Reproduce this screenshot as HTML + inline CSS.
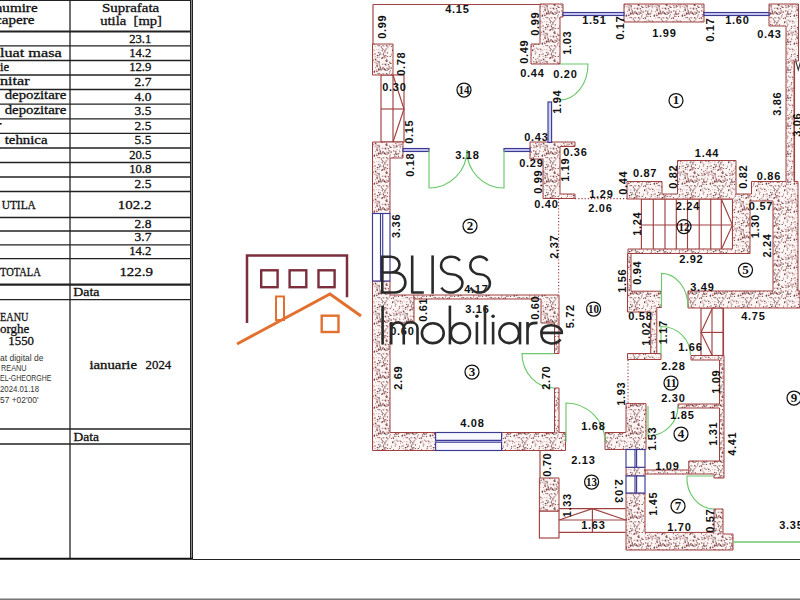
<!DOCTYPE html>
<html><head><meta charset="utf-8"><title>Plan</title>
<style>
html,body{margin:0;padding:0;background:#fff;width:800px;height:600px;overflow:hidden}
svg{display:block}
</style></head><body>
<svg width="800" height="600" viewBox="0 0 800 600">
<defs><pattern id="h" patternUnits="userSpaceOnUse" width="28" height="28"><rect width="28" height="28" fill="#fdf4f4"/><circle cx="9.1" cy="4.2" r="0.69" fill="#7a3434" fill-opacity="0.88"/><circle cx="2.6" cy="16.3" r="0.81" fill="#5a2c2c" fill-opacity="0.56"/><circle cx="12.1" cy="2.0" r="0.44" fill="#a04848" fill-opacity="0.57"/><circle cx="15.8" cy="26.5" r="0.68" fill="#4a2a2a" fill-opacity="0.93"/><circle cx="16.2" cy="11.1" r="0.84" fill="#7a3434" fill-opacity="0.77"/><circle cx="3.7" cy="11.7" r="0.64" fill="#4a2a2a" fill-opacity="0.67"/><circle cx="22.9" cy="5.1" r="0.66" fill="#5a2c2c" fill-opacity="0.70"/><circle cx="15.3" cy="1.8" r="0.43" fill="#5a2c2c" fill-opacity="0.75"/><circle cx="14.9" cy="21.8" r="0.61" fill="#a04848" fill-opacity="0.69"/><circle cx="7.0" cy="5.0" r="0.75" fill="#7a3434" fill-opacity="0.78"/><circle cx="14.7" cy="24.5" r="0.73" fill="#6a3434" fill-opacity="0.79"/><circle cx="2.0" cy="14.3" r="0.47" fill="#6a3434" fill-opacity="0.61"/><circle cx="13.7" cy="1.1" r="0.70" fill="#4a2a2a" fill-opacity="0.78"/><circle cx="24.5" cy="8.8" r="0.71" fill="#4a2a2a" fill-opacity="0.75"/><circle cx="22.3" cy="1.9" r="0.44" fill="#6a3434" fill-opacity="0.74"/><circle cx="18.6" cy="1.7" r="0.72" fill="#4a2a2a" fill-opacity="0.95"/><circle cx="23.0" cy="8.0" r="0.57" fill="#6a3434" fill-opacity="0.56"/><circle cx="12.9" cy="4.7" r="0.45" fill="#7a3434" fill-opacity="0.64"/><circle cx="8.0" cy="20.7" r="0.58" fill="#a04848" fill-opacity="0.58"/><circle cx="12.6" cy="15.4" r="0.80" fill="#a04848" fill-opacity="0.90"/><circle cx="7.8" cy="11.6" r="0.56" fill="#a04848" fill-opacity="0.93"/><circle cx="4.2" cy="4.9" r="0.50" fill="#5a2c2c" fill-opacity="0.55"/><circle cx="23.3" cy="5.1" r="0.53" fill="#5a2c2c" fill-opacity="0.72"/><circle cx="10.3" cy="15.9" r="0.83" fill="#4a2a2a" fill-opacity="0.93"/><circle cx="18.3" cy="20.7" r="0.61" fill="#4a2a2a" fill-opacity="0.71"/><circle cx="11.2" cy="2.9" r="0.69" fill="#7a3434" fill-opacity="0.63"/><circle cx="27.6" cy="12.3" r="0.45" fill="#4a2a2a" fill-opacity="0.57"/><circle cx="0.0" cy="4.2" r="0.45" fill="#6a3434" fill-opacity="0.80"/><circle cx="2.0" cy="5.8" r="0.57" fill="#6a3434" fill-opacity="0.93"/><circle cx="16.9" cy="13.3" r="0.45" fill="#a04848" fill-opacity="0.95"/><circle cx="13.0" cy="13.5" r="0.44" fill="#7a3434" fill-opacity="0.85"/><circle cx="20.7" cy="13.4" r="0.71" fill="#4a2a2a" fill-opacity="0.56"/><circle cx="26.6" cy="14.8" r="0.47" fill="#4a2a2a" fill-opacity="0.92"/><circle cx="21.2" cy="8.3" r="0.69" fill="#7a3434" fill-opacity="0.83"/><circle cx="7.3" cy="10.3" r="0.48" fill="#5a2c2c" fill-opacity="0.76"/><circle cx="21.8" cy="9.2" r="0.50" fill="#5a2c2c" fill-opacity="0.87"/><circle cx="22.9" cy="20.7" r="0.50" fill="#4a2a2a" fill-opacity="0.75"/><circle cx="20.5" cy="27.7" r="0.76" fill="#a04848" fill-opacity="0.65"/><circle cx="19.4" cy="26.8" r="0.60" fill="#6a3434" fill-opacity="0.93"/><circle cx="10.2" cy="6.2" r="0.50" fill="#5a2c2c" fill-opacity="0.69"/><circle cx="13.5" cy="27.6" r="0.67" fill="#7a3434" fill-opacity="0.74"/><circle cx="18.3" cy="22.4" r="0.44" fill="#7a3434" fill-opacity="0.91"/><circle cx="21.9" cy="21.0" r="0.62" fill="#5a2c2c" fill-opacity="0.72"/><circle cx="17.8" cy="2.4" r="0.83" fill="#a04848" fill-opacity="0.74"/><circle cx="20.8" cy="2.4" r="0.47" fill="#5a2c2c" fill-opacity="0.56"/><circle cx="16.5" cy="13.0" r="0.70" fill="#4a2a2a" fill-opacity="0.88"/><circle cx="27.4" cy="18.4" r="0.56" fill="#4a2a2a" fill-opacity="0.77"/><circle cx="0.6" cy="22.4" r="0.73" fill="#7a3434" fill-opacity="0.76"/><circle cx="26.1" cy="12.1" r="0.79" fill="#5a2c2c" fill-opacity="0.56"/><circle cx="6.0" cy="14.0" r="0.74" fill="#6a3434" fill-opacity="0.65"/><circle cx="11.7" cy="3.7" r="0.81" fill="#6a3434" fill-opacity="0.91"/><circle cx="18.5" cy="22.8" r="0.63" fill="#4a2a2a" fill-opacity="0.60"/><circle cx="4.3" cy="14.3" r="0.79" fill="#5a2c2c" fill-opacity="0.79"/><circle cx="21.7" cy="4.2" r="0.46" fill="#4a2a2a" fill-opacity="0.84"/><circle cx="15.6" cy="9.1" r="0.63" fill="#4a2a2a" fill-opacity="0.74"/><circle cx="21.7" cy="24.7" r="0.43" fill="#5a2c2c" fill-opacity="0.66"/><circle cx="21.6" cy="14.2" r="0.65" fill="#7a3434" fill-opacity="0.73"/><circle cx="17.2" cy="14.2" r="0.63" fill="#6a3434" fill-opacity="0.73"/><circle cx="14.9" cy="13.4" r="0.82" fill="#4a2a2a" fill-opacity="0.90"/><circle cx="26.4" cy="7.3" r="0.65" fill="#5a2c2c" fill-opacity="0.89"/><circle cx="3.8" cy="3.4" r="0.60" fill="#7a3434" fill-opacity="0.82"/><circle cx="12.0" cy="6.0" r="0.54" fill="#7a3434" fill-opacity="0.91"/><circle cx="4.3" cy="20.1" r="0.70" fill="#5a2c2c" fill-opacity="0.65"/><circle cx="3.8" cy="13.1" r="0.74" fill="#7a3434" fill-opacity="0.71"/><circle cx="13.6" cy="27.7" r="0.77" fill="#5a2c2c" fill-opacity="0.83"/><circle cx="27.8" cy="11.3" r="0.59" fill="#6a3434" fill-opacity="0.68"/><circle cx="20.2" cy="0.5" r="0.65" fill="#a04848" fill-opacity="0.83"/><circle cx="10.8" cy="14.5" r="0.53" fill="#7a3434" fill-opacity="0.60"/><circle cx="25.7" cy="6.4" r="0.79" fill="#7a3434" fill-opacity="0.66"/><circle cx="1.1" cy="21.8" r="0.52" fill="#5a2c2c" fill-opacity="0.88"/><circle cx="23.8" cy="18.9" r="0.83" fill="#a04848" fill-opacity="0.61"/><circle cx="25.7" cy="16.0" r="0.72" fill="#7a3434" fill-opacity="0.66"/><circle cx="22.4" cy="5.1" r="0.80" fill="#6a3434" fill-opacity="0.93"/><circle cx="17.8" cy="22.4" r="0.44" fill="#5a2c2c" fill-opacity="0.58"/><circle cx="24.2" cy="12.7" r="0.55" fill="#4a2a2a" fill-opacity="0.72"/><circle cx="25.6" cy="17.4" r="0.42" fill="#5a2c2c" fill-opacity="0.93"/><circle cx="27.1" cy="7.3" r="0.48" fill="#6a3434" fill-opacity="0.80"/><circle cx="14.9" cy="5.8" r="0.60" fill="#5a2c2c" fill-opacity="0.66"/><circle cx="22.5" cy="27.8" r="0.42" fill="#7a3434" fill-opacity="0.84"/><circle cx="15.4" cy="5.3" r="0.61" fill="#a04848" fill-opacity="0.59"/><circle cx="22.9" cy="12.1" r="0.62" fill="#a04848" fill-opacity="0.94"/><circle cx="8.6" cy="6.0" r="0.50" fill="#5a2c2c" fill-opacity="0.88"/><circle cx="19.8" cy="17.8" r="0.58" fill="#6a3434" fill-opacity="0.94"/><circle cx="23.4" cy="0.4" r="0.68" fill="#6a3434" fill-opacity="0.72"/><circle cx="1.6" cy="18.6" r="0.57" fill="#4a2a2a" fill-opacity="0.82"/><circle cx="7.9" cy="6.8" r="0.53" fill="#a04848" fill-opacity="0.62"/><circle cx="7.5" cy="0.1" r="0.56" fill="#6a3434" fill-opacity="0.94"/><circle cx="15.3" cy="6.8" r="0.83" fill="#6a3434" fill-opacity="0.64"/><circle cx="5.1" cy="9.4" r="0.44" fill="#6a3434" fill-opacity="0.75"/><circle cx="5.6" cy="14.1" r="0.40" fill="#6a3434" fill-opacity="0.88"/><circle cx="4.0" cy="16.4" r="0.58" fill="#6a3434" fill-opacity="0.67"/><circle cx="6.5" cy="16.4" r="0.64" fill="#5a2c2c" fill-opacity="0.81"/><circle cx="20.0" cy="24.6" r="0.58" fill="#6a3434" fill-opacity="0.84"/><circle cx="13.8" cy="8.0" r="0.68" fill="#5a2c2c" fill-opacity="0.57"/><circle cx="23.4" cy="25.0" r="0.68" fill="#4a2a2a" fill-opacity="0.61"/><circle cx="14.7" cy="14.1" r="0.78" fill="#7a3434" fill-opacity="0.88"/><circle cx="16.4" cy="25.0" r="0.71" fill="#5a2c2c" fill-opacity="0.58"/><circle cx="1.2" cy="17.8" r="0.83" fill="#a04848" fill-opacity="0.88"/><circle cx="15.6" cy="17.6" r="0.68" fill="#5a2c2c" fill-opacity="0.75"/><circle cx="0.1" cy="22.3" r="0.74" fill="#4a2a2a" fill-opacity="0.91"/><circle cx="2.6" cy="14.7" r="0.74" fill="#a04848" fill-opacity="0.65"/><circle cx="2.1" cy="7.4" r="0.73" fill="#5a2c2c" fill-opacity="0.64"/><circle cx="18.2" cy="12.9" r="0.78" fill="#7a3434" fill-opacity="0.74"/><circle cx="19.1" cy="21.5" r="0.68" fill="#5a2c2c" fill-opacity="0.58"/><circle cx="4.1" cy="7.1" r="0.73" fill="#6a3434" fill-opacity="0.80"/><circle cx="3.7" cy="13.5" r="0.62" fill="#7a3434" fill-opacity="0.83"/><circle cx="18.9" cy="8.1" r="0.63" fill="#a04848" fill-opacity="0.74"/><circle cx="21.5" cy="27.8" r="0.65" fill="#6a3434" fill-opacity="0.94"/><circle cx="26.2" cy="0.5" r="0.61" fill="#4a2a2a" fill-opacity="0.94"/><circle cx="12.6" cy="7.5" r="0.49" fill="#5a2c2c" fill-opacity="0.58"/><circle cx="2.5" cy="20.9" r="0.52" fill="#6a3434" fill-opacity="0.60"/><circle cx="23.0" cy="14.2" r="0.80" fill="#6a3434" fill-opacity="0.64"/><circle cx="25.1" cy="13.6" r="0.41" fill="#7a3434" fill-opacity="0.93"/><circle cx="19.1" cy="11.4" r="0.73" fill="#a04848" fill-opacity="0.69"/><circle cx="8.9" cy="23.5" r="0.40" fill="#6a3434" fill-opacity="0.89"/><circle cx="3.4" cy="25.9" r="0.72" fill="#6a3434" fill-opacity="0.65"/><circle cx="1.8" cy="10.9" r="0.79" fill="#7a3434" fill-opacity="0.69"/><circle cx="12.0" cy="7.7" r="0.42" fill="#7a3434" fill-opacity="0.57"/><circle cx="18.5" cy="17.8" r="0.47" fill="#6a3434" fill-opacity="0.72"/><circle cx="8.8" cy="21.6" r="0.75" fill="#a04848" fill-opacity="0.90"/><circle cx="22.7" cy="17.7" r="0.81" fill="#4a2a2a" fill-opacity="0.77"/><circle cx="20.1" cy="1.4" r="0.73" fill="#a04848" fill-opacity="0.80"/><circle cx="3.9" cy="24.3" r="0.62" fill="#4a2a2a" fill-opacity="0.60"/><circle cx="13.2" cy="9.6" r="0.53" fill="#6a3434" fill-opacity="0.71"/><circle cx="6.7" cy="13.5" r="0.70" fill="#7a3434" fill-opacity="0.62"/><circle cx="4.5" cy="5.8" r="0.81" fill="#a04848" fill-opacity="0.77"/><circle cx="12.7" cy="9.3" r="0.74" fill="#a04848" fill-opacity="0.61"/><circle cx="5.4" cy="2.5" r="0.55" fill="#7a3434" fill-opacity="0.68"/><circle cx="10.3" cy="22.7" r="0.49" fill="#7a3434" fill-opacity="0.85"/><circle cx="11.6" cy="11.6" r="0.64" fill="#a04848" fill-opacity="0.66"/><circle cx="21.1" cy="13.9" r="0.66" fill="#6a3434" fill-opacity="0.60"/><circle cx="14.1" cy="17.6" r="0.79" fill="#5a2c2c" fill-opacity="0.59"/><circle cx="25.1" cy="10.8" r="0.69" fill="#a04848" fill-opacity="0.93"/><circle cx="23.8" cy="24.4" r="0.41" fill="#7a3434" fill-opacity="0.72"/><circle cx="21.4" cy="22.5" r="0.84" fill="#a04848" fill-opacity="0.55"/><circle cx="11.0" cy="26.0" r="0.77" fill="#a04848" fill-opacity="0.94"/><circle cx="7.0" cy="3.1" r="0.47" fill="#4a2a2a" fill-opacity="0.94"/><circle cx="3.0" cy="23.1" r="0.72" fill="#a04848" fill-opacity="0.58"/><circle cx="21.8" cy="0.0" r="0.46" fill="#4a2a2a" fill-opacity="0.92"/><circle cx="18.1" cy="8.5" r="0.46" fill="#6a3434" fill-opacity="0.76"/><circle cx="12.2" cy="21.4" r="0.44" fill="#6a3434" fill-opacity="0.76"/><circle cx="16.3" cy="10.9" r="0.50" fill="#4a2a2a" fill-opacity="0.55"/><circle cx="15.0" cy="27.9" r="0.53" fill="#6a3434" fill-opacity="0.81"/><circle cx="24.7" cy="13.3" r="0.51" fill="#5a2c2c" fill-opacity="0.56"/><circle cx="11.5" cy="18.2" r="0.42" fill="#5a2c2c" fill-opacity="0.75"/><circle cx="18.9" cy="11.8" r="0.52" fill="#a04848" fill-opacity="0.92"/><circle cx="6.4" cy="1.0" r="0.55" fill="#a04848" fill-opacity="0.69"/><circle cx="11.1" cy="0.2" r="0.53" fill="#4a2a2a" fill-opacity="0.58"/><circle cx="13.9" cy="5.6" r="0.74" fill="#5a2c2c" fill-opacity="0.64"/><circle cx="6.2" cy="21.3" r="0.53" fill="#4a2a2a" fill-opacity="0.75"/><circle cx="5.2" cy="6.3" r="0.59" fill="#7a3434" fill-opacity="0.93"/><circle cx="4.1" cy="11.0" r="0.50" fill="#4a2a2a" fill-opacity="0.61"/><circle cx="1.5" cy="1.7" r="0.58" fill="#6a3434" fill-opacity="0.84"/><circle cx="27.9" cy="26.1" r="0.55" fill="#5a2c2c" fill-opacity="0.81"/><circle cx="14.7" cy="13.1" r="0.54" fill="#a04848" fill-opacity="0.89"/><circle cx="27.6" cy="12.4" r="0.45" fill="#7a3434" fill-opacity="0.66"/><circle cx="9.8" cy="26.8" r="0.46" fill="#5a2c2c" fill-opacity="0.70"/><circle cx="21.5" cy="8.6" r="0.76" fill="#7a3434" fill-opacity="0.57"/><circle cx="13.3" cy="10.4" r="0.81" fill="#5a2c2c" fill-opacity="0.68"/><circle cx="20.6" cy="13.3" r="0.68" fill="#5a2c2c" fill-opacity="0.87"/><circle cx="21.5" cy="1.1" r="0.42" fill="#7a3434" fill-opacity="0.87"/><circle cx="1.7" cy="5.5" r="0.43" fill="#4a2a2a" fill-opacity="0.69"/><circle cx="7.6" cy="26.8" r="0.68" fill="#6a3434" fill-opacity="0.85"/><circle cx="19.3" cy="25.9" r="0.53" fill="#4a2a2a" fill-opacity="0.92"/><circle cx="17.8" cy="26.4" r="0.41" fill="#5a2c2c" fill-opacity="0.59"/><circle cx="20.0" cy="13.0" r="0.75" fill="#6a3434" fill-opacity="0.92"/><circle cx="22.8" cy="3.7" r="0.62" fill="#7a3434" fill-opacity="0.87"/><circle cx="20.7" cy="23.0" r="0.75" fill="#4a2a2a" fill-opacity="0.64"/><circle cx="24.1" cy="12.9" r="0.75" fill="#4a2a2a" fill-opacity="0.58"/><circle cx="5.5" cy="21.1" r="0.51" fill="#7a3434" fill-opacity="0.81"/><circle cx="13.5" cy="15.2" r="0.47" fill="#a04848" fill-opacity="0.90"/><circle cx="27.7" cy="7.4" r="0.44" fill="#7a3434" fill-opacity="0.72"/><circle cx="27.7" cy="27.2" r="0.48" fill="#5a2c2c" fill-opacity="0.72"/><circle cx="17.4" cy="18.9" r="0.74" fill="#7a3434" fill-opacity="0.86"/><circle cx="8.2" cy="7.8" r="0.52" fill="#6a3434" fill-opacity="0.85"/></pattern></defs>
<rect width="800" height="600" fill="#fff"/>
<line x1="0" y1="0.5" x2="193" y2="0.5" stroke="#222" stroke-width="1.2" />
<line x1="70" y1="0" x2="70" y2="559" stroke="#222" stroke-width="1.3" />
<rect x="190" y="0" width="3" height="559" fill="#8a8a8a"/>
<line x1="190.5" y1="0" x2="190.5" y2="559" stroke="#222" stroke-width="1" />
<line x1="192.5" y1="0" x2="192.5" y2="559" stroke="#222" stroke-width="1" />
<line x1="0" y1="31.5" x2="190" y2="31.5" stroke="#222" stroke-width="2" />
<line x1="0" y1="45.8" x2="190" y2="45.8" stroke="#222" stroke-width="1.3" />
<line x1="0" y1="60.5" x2="190" y2="60.5" stroke="#222" stroke-width="1.3" />
<line x1="0" y1="75" x2="190" y2="75" stroke="#222" stroke-width="1.3" />
<line x1="0" y1="89.5" x2="190" y2="89.5" stroke="#222" stroke-width="1.3" />
<line x1="0" y1="104.2" x2="190" y2="104.2" stroke="#222" stroke-width="1.3" />
<line x1="0" y1="118.8" x2="190" y2="118.8" stroke="#222" stroke-width="1.3" />
<line x1="0" y1="133.4" x2="190" y2="133.4" stroke="#222" stroke-width="1.3" />
<line x1="0" y1="148" x2="190" y2="148" stroke="#222" stroke-width="1.3" />
<line x1="0" y1="162.5" x2="190" y2="162.5" stroke="#222" stroke-width="1.3" />
<line x1="0" y1="177" x2="190" y2="177" stroke="#222" stroke-width="1.3" />
<line x1="0" y1="191.5" x2="190" y2="191.5" stroke="#222" stroke-width="1.3" />
<line x1="0" y1="217.5" x2="190" y2="217.5" stroke="#222" stroke-width="1.3" />
<line x1="0" y1="231" x2="190" y2="231" stroke="#222" stroke-width="1.3" />
<line x1="0" y1="244.8" x2="190" y2="244.8" stroke="#222" stroke-width="1.3" />
<line x1="0" y1="258.6" x2="190" y2="258.6" stroke="#222" stroke-width="1.3" />
<line x1="0" y1="284.7" x2="190" y2="284.7" stroke="#222" stroke-width="2.2" />
<line x1="0" y1="299.6" x2="190" y2="299.6" stroke="#222" stroke-width="1.4" />
<line x1="0" y1="429" x2="190" y2="429" stroke="#222" stroke-width="1.4" />
<line x1="0" y1="444" x2="190" y2="444" stroke="#222" stroke-width="1.4" />
<line x1="0" y1="558.8" x2="193" y2="558.8" stroke="#111" stroke-width="2" />
<line x1="193" y1="559.5" x2="800" y2="559.5" stroke="#222" stroke-width="1.1" />
<rect x="0" y="598.5" width="800" height="1.5" fill="#777"/>
<text x="102" y="11.7" font-family="Liberation Serif, serif" font-weight="normal" font-size="12.5" fill="#111" stroke="#111" stroke-width="0.3" textLength="57.2" lengthAdjust="spacingAndGlyphs">Suprafata</text>
<text x="100.2" y="25.3" font-family="Liberation Serif, serif" font-weight="normal" font-size="12.5" fill="#111" stroke="#111" stroke-width="0.3" textLength="61.8" lengthAdjust="spacingAndGlyphs">utila&#160;&#160;[mp]</text>
<text x="-5.2" y="12.1" font-family="Liberation Serif, serif" font-weight="normal" font-size="12" fill="#111" stroke="#111" stroke-width="0.3" textLength="42.8" lengthAdjust="spacingAndGlyphs">numire</text>
<text x="-5.0" y="24.2" font-family="Liberation Serif, serif" font-weight="normal" font-size="12" fill="#111" stroke="#111" stroke-width="0.3" textLength="39.5" lengthAdjust="spacingAndGlyphs">capere</text>
<text x="0" y="56.7" font-family="Liberation Serif, serif" font-weight="normal" font-size="12" fill="#111" stroke="#111" stroke-width="0.3" textLength="61.7" lengthAdjust="spacingAndGlyphs">luat masa</text>
<text x="0" y="70.8" font-family="Liberation Serif, serif" font-weight="normal" font-size="12" fill="#111" stroke="#111" stroke-width="0.3" textLength="9.2" lengthAdjust="spacingAndGlyphs">ie</text>
<text x="0" y="85" font-family="Liberation Serif, serif" font-weight="normal" font-size="12" fill="#111" stroke="#111" stroke-width="0.3" textLength="29.7" lengthAdjust="spacingAndGlyphs">nitar</text>
<text x="4.7" y="99.2" font-family="Liberation Serif, serif" font-weight="normal" font-size="12" fill="#111" stroke="#111" stroke-width="0.3" textLength="61.6" lengthAdjust="spacingAndGlyphs">depozitare</text>
<text x="4.7" y="113.6" font-family="Liberation Serif, serif" font-weight="normal" font-size="12" fill="#111" stroke="#111" stroke-width="0.3" textLength="61.6" lengthAdjust="spacingAndGlyphs">depozitare</text>
<text x="4.7" y="144.2" font-family="Liberation Serif, serif" font-weight="normal" font-size="12" fill="#111" stroke="#111" stroke-width="0.3" textLength="42.8" lengthAdjust="spacingAndGlyphs">tehnica</text>
<text x="1.7" y="209.2" font-family="Liberation Serif, serif" font-weight="normal" font-size="12" fill="#111" stroke="#111" stroke-width="0.3" textLength="34.1" lengthAdjust="spacingAndGlyphs">UTILA</text>
<text x="0" y="275.8" font-family="Liberation Serif, serif" font-weight="normal" font-size="12" fill="#111" stroke="#111" stroke-width="0.3" textLength="40.8" lengthAdjust="spacingAndGlyphs">TOTALA</text>
<text x="0" y="321" font-family="Liberation Serif, serif" font-weight="normal" font-size="13" fill="#111" stroke="#111" stroke-width="0.3" textLength="28.4" lengthAdjust="spacingAndGlyphs">EANU</text>
<text x="0" y="333" font-family="Liberation Serif, serif" font-weight="normal" font-size="13" fill="#111" stroke="#111" stroke-width="0.3" textLength="29.4" lengthAdjust="spacingAndGlyphs">orghe</text>
<text x="8.3" y="344.6" font-family="Liberation Serif, serif" font-weight="normal" font-size="13" fill="#111" stroke="#111" stroke-width="0.3" textLength="25.7" lengthAdjust="spacingAndGlyphs">1550</text>
<rect x="0" y="123" width="1.6" height="1.6" fill="#111"/>
<text x="129.20000000000002" y="42.9" font-family="Liberation Serif, serif" font-weight="normal" font-size="12" fill="#111" stroke="#111" stroke-width="0.3" textLength="22.2" lengthAdjust="spacingAndGlyphs">23.1</text>
<text x="129.20000000000002" y="57.1" font-family="Liberation Serif, serif" font-weight="normal" font-size="12" fill="#111" stroke="#111" stroke-width="0.3" textLength="22.2" lengthAdjust="spacingAndGlyphs">14.2</text>
<text x="129.20000000000002" y="71.4" font-family="Liberation Serif, serif" font-weight="normal" font-size="12" fill="#111" stroke="#111" stroke-width="0.3" textLength="22.2" lengthAdjust="spacingAndGlyphs">12.9</text>
<text x="134.6" y="86.1" font-family="Liberation Serif, serif" font-weight="normal" font-size="12" fill="#111" stroke="#111" stroke-width="0.3" textLength="16.8" lengthAdjust="spacingAndGlyphs">2.7</text>
<text x="134.6" y="100.8" font-family="Liberation Serif, serif" font-weight="normal" font-size="12" fill="#111" stroke="#111" stroke-width="0.3" textLength="16.8" lengthAdjust="spacingAndGlyphs">4.0</text>
<text x="134.6" y="115.2" font-family="Liberation Serif, serif" font-weight="normal" font-size="12" fill="#111" stroke="#111" stroke-width="0.3" textLength="16.8" lengthAdjust="spacingAndGlyphs">3.5</text>
<text x="134.6" y="129.7" font-family="Liberation Serif, serif" font-weight="normal" font-size="12" fill="#111" stroke="#111" stroke-width="0.3" textLength="16.8" lengthAdjust="spacingAndGlyphs">2.5</text>
<text x="134.6" y="144.4" font-family="Liberation Serif, serif" font-weight="normal" font-size="12" fill="#111" stroke="#111" stroke-width="0.3" textLength="16.8" lengthAdjust="spacingAndGlyphs">5.5</text>
<text x="129.20000000000002" y="158.9" font-family="Liberation Serif, serif" font-weight="normal" font-size="12" fill="#111" stroke="#111" stroke-width="0.3" textLength="22.2" lengthAdjust="spacingAndGlyphs">20.5</text>
<text x="129.20000000000002" y="173.4" font-family="Liberation Serif, serif" font-weight="normal" font-size="12" fill="#111" stroke="#111" stroke-width="0.3" textLength="22.2" lengthAdjust="spacingAndGlyphs">10.8</text>
<text x="134.6" y="187.8" font-family="Liberation Serif, serif" font-weight="normal" font-size="12" fill="#111" stroke="#111" stroke-width="0.3" textLength="16.8" lengthAdjust="spacingAndGlyphs">2.5</text>
<text x="117.80000000000001" y="209.25" font-family="Liberation Serif, serif" font-weight="normal" font-size="12" fill="#111" stroke="#111" stroke-width="0.3" textLength="33.6" lengthAdjust="spacingAndGlyphs">102.2</text>
<text x="134.6" y="227.5" font-family="Liberation Serif, serif" font-weight="normal" font-size="12" fill="#111" stroke="#111" stroke-width="0.3" textLength="16.8" lengthAdjust="spacingAndGlyphs">2.8</text>
<text x="134.6" y="241.3" font-family="Liberation Serif, serif" font-weight="normal" font-size="12" fill="#111" stroke="#111" stroke-width="0.3" textLength="16.8" lengthAdjust="spacingAndGlyphs">3.7</text>
<text x="129.20000000000002" y="255.3" font-family="Liberation Serif, serif" font-weight="normal" font-size="12" fill="#111" stroke="#111" stroke-width="0.3" textLength="22.2" lengthAdjust="spacingAndGlyphs">14.2</text>
<text x="119.4" y="276.25" font-family="Liberation Serif, serif" font-weight="normal" font-size="12" fill="#111" stroke="#111" stroke-width="0.3" textLength="33.6" lengthAdjust="spacingAndGlyphs">122.9</text>
<text x="73.25" y="296" font-family="Liberation Serif, serif" font-weight="normal" font-size="12" fill="#111" stroke="#111" stroke-width="0.3" textLength="26.2" lengthAdjust="spacingAndGlyphs">Data</text>
<text x="89.4" y="368.75" font-family="Liberation Serif, serif" font-weight="normal" font-size="12" fill="#111" stroke="#111" stroke-width="0.3" textLength="47.6" lengthAdjust="spacingAndGlyphs">ianuarie</text>
<text x="145.6" y="368.75" font-family="Liberation Serif, serif" font-weight="normal" font-size="12" fill="#111" stroke="#111" stroke-width="0.3" textLength="25.7" lengthAdjust="spacingAndGlyphs">2024</text>
<text x="73.5" y="441" font-family="Liberation Serif, serif" font-weight="normal" font-size="12" fill="#111" stroke="#111" stroke-width="0.3" textLength="25.5" lengthAdjust="spacingAndGlyphs">Data</text>
<text x="0" y="360.5" font-family="Liberation Sans, sans-serif" font-weight="normal" font-size="9.5" fill="#333" textLength="43.5" lengthAdjust="spacingAndGlyphs">at digital de</text>
<text x="1" y="370.6" font-family="Liberation Sans, sans-serif" font-weight="normal" font-size="9.5" fill="#333" textLength="25.6" lengthAdjust="spacingAndGlyphs">REANU</text>
<text x="0" y="381.3" font-family="Liberation Sans, sans-serif" font-weight="normal" font-size="9.5" fill="#333" textLength="51.4" lengthAdjust="spacingAndGlyphs">EL-GHEORGHE</text>
<text x="0" y="391.7" font-family="Liberation Sans, sans-serif" font-weight="normal" font-size="9.5" fill="#333" textLength="39.0" lengthAdjust="spacingAndGlyphs">2024.01.18</text>
<text x="0" y="402.8" font-family="Liberation Sans, sans-serif" font-weight="normal" font-size="9.5" fill="#333" textLength="38.5" lengthAdjust="spacingAndGlyphs">57 +02'00'</text>
<line x1="373" y1="4.5" x2="540" y2="4.5" stroke="#a04040" stroke-width="1.15" />
<line x1="373" y1="4.5" x2="373" y2="44" stroke="#a04040" stroke-width="1.15" />
<rect x="381" y="75" width="23" height="67" fill="none" stroke="#a04040" stroke-width="1.15"/>
<line x1="393" y1="75" x2="393" y2="142" stroke="#a04040" stroke-width="1.15" />
<line x1="381" y1="109" x2="404" y2="109" stroke="#a04040" stroke-width="1.15" />
<polyline points="393,75 404,109 393,142" fill="none" stroke="#a04040" stroke-width="1.15"/>
<rect x="641.4" y="199" width="91.10000000000002" height="50.5" fill="none" stroke="#a04040" stroke-width="1.15"/>
<line x1="653.3" y1="199" x2="653.3" y2="249.5" stroke="#a04040" stroke-width="1.15" />
<line x1="665" y1="199" x2="665" y2="249.5" stroke="#a04040" stroke-width="1.15" />
<line x1="676.3" y1="199" x2="676.3" y2="249.5" stroke="#a04040" stroke-width="1.15" />
<line x1="687.5" y1="199" x2="687.5" y2="249.5" stroke="#a04040" stroke-width="1.15" />
<line x1="699.2" y1="199" x2="699.2" y2="249.5" stroke="#a04040" stroke-width="1.15" />
<line x1="710.7" y1="199" x2="710.7" y2="249.5" stroke="#a04040" stroke-width="1.15" />
<line x1="721.3" y1="199" x2="721.3" y2="249.5" stroke="#a04040" stroke-width="1.15" />
<line x1="641.4" y1="225" x2="732.5" y2="225" stroke="#a04040" stroke-width="1.15" />
<polyline points="721.3,199 732.5,225 721.3,249.5" fill="none" stroke="#a04040" stroke-width="1.15"/>
<rect x="701" y="308" width="22" height="47.5" fill="none" stroke="#a04040" stroke-width="1.15"/>
<line x1="712" y1="308" x2="712" y2="355.5" stroke="#a04040" stroke-width="1.15" />
<line x1="701" y1="332.4" x2="723" y2="332.4" stroke="#a04040" stroke-width="1.15" />
<polyline points="712,309 701,332.4 712,355" fill="none" stroke="#a04040" stroke-width="1.15"/>
<line x1="559" y1="508.6" x2="625.6" y2="508.6" stroke="#a04040" stroke-width="1.15" />
<line x1="559" y1="520" x2="625.6" y2="520" stroke="#a04040" stroke-width="1.15" />
<line x1="559" y1="532.4" x2="625.6" y2="532.4" stroke="#a04040" stroke-width="1.15" />
<line x1="592.4" y1="508.6" x2="592.4" y2="532.4" stroke="#a04040" stroke-width="1.15" />
<polyline points="559,520 592.4,508.6 625.6,520" fill="none" stroke="#a04040" stroke-width="1.15"/>
<rect x="539.4" y="511" width="19.600000000000023" height="27" fill="none" stroke="#a04040" stroke-width="1.15"/>
<line x1="540" y1="450" x2="540" y2="478" stroke="#a04040" stroke-width="1.15" />
<line x1="723.5" y1="308" x2="723.5" y2="356" stroke="#a04040" stroke-width="1.15" />
<line x1="794.5" y1="61" x2="794.5" y2="181.5" stroke="#a04040" stroke-width="1.15" />
<polyline points="795.5,60 798.3,70 801,60" fill="none" stroke="#333" stroke-width="1.1"/>
<polygon points="372.5,44 393,44 393,75 372.5,75" fill="url(#h)" stroke="#a04040" stroke-width="1.0"/>
<polygon points="372.5,142 403,142 403,158 390,158 390,213.5 372.5,213.5" fill="url(#h)" stroke="#a04040" stroke-width="1.0"/>
<polygon points="372.5,281 390,281 390,295 414,295 414,323 390,323 390,432.5 436,432.5 436,450.5 372.5,450.5" fill="url(#h)" stroke="#a04040" stroke-width="1.0"/>
<polygon points="414,295 559,295 559,353.5 554.5,353.5 554.5,323 541,323 541,299 414,299" fill="url(#h)" stroke="#a04040" stroke-width="1.0"/>
<polygon points="554.5,388 559,388 559,432.5 565.5,432.5 565.5,450.5 501.5,450.5 501.5,432.5 554.5,432.5" fill="url(#h)" stroke="#a04040" stroke-width="1.0"/>
<polygon points="530,142 575,142 575,146.5 560,146.5 560,194 575,194 575,198.5 543,198.5 543,159 530,159" fill="url(#h)" stroke="#a04040" stroke-width="1.0"/>
<polygon points="540,4 563,4 563,17 560,17 560,64 531,64 531,44 540,44" fill="url(#h)" stroke="#a04040" stroke-width="1.0"/>
<polygon points="624,4 704,4 704,22 624,22" fill="url(#h)" stroke="#a04040" stroke-width="1.0"/>
<polygon points="769,4 798.5,4 798.5,61 794,61 794,181.5 798,181.5 798,291 800,291 800,308 688,308 688,291 773,291 773,201 750,201 750,253.5 628,253.5 628,249 732.5,249 732.5,199 627,199 627,181.5 662,181.5 662,194 677.5,194 677.5,160.5 736,160.5 736,194 751.5,194 751.5,181.5 786,181.5 786,26 769,26" fill="url(#h)" stroke="#a04040" stroke-width="1.0"/>
<polygon points="627.5,253.5 631,253.5 631,291.2 661.5,291.2 661.5,307.5 656.8,307.5 656.8,355 650.7,355 650.7,312 627.5,312" fill="url(#h)" stroke="#a04040" stroke-width="1.0"/>
<polygon points="627.5,353.5 661,353.5 661,359.5 627.5,359.5" fill="url(#h)" stroke="#a04040" stroke-width="1.0"/>
<polygon points="691,355.5 724,355.5 724,478 714,478 714,474 688.75,474 688.75,461 719.5,461 719.5,408 678,408 678,404 719.5,404 719.5,360 691,360" fill="url(#h)" stroke="#a04040" stroke-width="1.0"/>
<polygon points="645,470 688.75,470 688.75,474 645,474" fill="url(#h)" stroke="#a04040" stroke-width="1.0"/>
<polygon points="605,432.5 626,432.5 626,403.6 646,403.6 646,449.5 605,449.5" fill="url(#h)" stroke="#a04040" stroke-width="1.0"/>
<polygon points="626,467.3 645,467.3 645,476 626,476" fill="url(#h)" stroke="#a04040" stroke-width="1.0"/>
<polygon points="626,493 645,493 645,532.4 714,532.4 714,509 723,509 723,534 733,534 733,550 626,550" fill="url(#h)" stroke="#a04040" stroke-width="1.0"/>
<polygon points="539.4,478 559,478 559,511 539.4,511" fill="url(#h)" stroke="#a04040" stroke-width="1.0"/>
<line x1="575" y1="198.6" x2="627" y2="198.6" stroke="#a04040" stroke-width="1.15" stroke-dasharray="1.2,2"/>
<line x1="558.6" y1="198.6" x2="558.6" y2="293" stroke="#a04040" stroke-width="1.15" stroke-dasharray="1.2,2"/>
<line x1="628" y1="360" x2="628" y2="403" stroke="#a04040" stroke-width="1.15" stroke-dasharray="1.2,2"/>
<rect x="372.5" y="213.5" width="17.5" height="67.5" fill="#fff" stroke="#3a3a95" stroke-width="1.15"/>
<line x1="380.5" y1="213.5" x2="380.5" y2="281" stroke="#3a3a95" stroke-width="1.15" />
<line x1="382.7" y1="213.5" x2="382.7" y2="281" stroke="#3a3a95" stroke-width="1.15" />
<rect x="563" y="12.5" width="61" height="3.0" fill="#d0d0f2" stroke="#3a3a95" stroke-width="1.15"/>
<rect x="704" y="12.5" width="65" height="3.0" fill="#d0d0f2" stroke="#3a3a95" stroke-width="1.15"/>
<rect x="403" y="148.5" width="26" height="3.0" fill="#c8c8ee" stroke="#3a3a95" stroke-width="1.15"/>
<rect x="504" y="148.5" width="26" height="3.0" fill="#c8c8ee" stroke="#3a3a95" stroke-width="1.15"/>
<rect x="548" y="102" width="3.6000000000000227" height="40.400000000000006" fill="#d0d0f2" stroke="#3a3a95" stroke-width="1.15"/>
<rect x="435.6" y="432.5" width="66.0" height="18.0" fill="#f8f8ff" stroke="#3a3a95" stroke-width="1.15"/>
<rect x="435.6" y="440.4" width="66" height="1.8" fill="#c8c8ee"/>
<line x1="435.6" y1="440.4" x2="501.6" y2="440.4" stroke="#3a3a95" stroke-width="1.15" />
<line x1="435.6" y1="442.2" x2="501.6" y2="442.2" stroke="#3a3a95" stroke-width="1.15" />
<rect x="626" y="449.5" width="19" height="17.80000000000001" fill="#fff" stroke="#3a3a95" stroke-width="1.15"/>
<line x1="635" y1="449.5" x2="635" y2="467.3" stroke="#3a3a95" stroke-width="1.15" />
<line x1="636.6" y1="449.5" x2="636.6" y2="467.3" stroke="#3a3a95" stroke-width="1.15" />
<rect x="626" y="476" width="19" height="17" fill="#fff" stroke="#3a3a95" stroke-width="1.15"/>
<line x1="635" y1="476" x2="635" y2="493" stroke="#3a3a95" stroke-width="1.15" />
<line x1="636.6" y1="476" x2="636.6" y2="493" stroke="#3a3a95" stroke-width="1.15" />
<path d="M429,150 V188 A38,38 0 0 0 467,150" fill="none" stroke="#6cc86c" stroke-width="1.15"/>
<path d="M504,150 V188 A37,37 0 0 1 467,150" fill="none" stroke="#6cc86c" stroke-width="1.15"/>
<path d="M560,64 H588 A28,36 0 0 1 560,100" fill="none" stroke="#6cc86c" stroke-width="1.15"/>
<path d="M661.5,307 V273.3 A26.5,33.7 0 0 1 688,307" fill="none" stroke="#6cc86c" stroke-width="1.15"/>
<path d="M661,355 V326.5 A29.5,28.5 0 0 1 690.5,355" fill="none" stroke="#6cc86c" stroke-width="1.15"/>
<path d="M648,406 V436 A30,30 0 0 0 678,406" fill="none" stroke="#6cc86c" stroke-width="1.15"/>
<path d="M714,476 H687 A27,31 0 0 0 714,509" fill="none" stroke="#6cc86c" stroke-width="1.15"/>
<path d="M554,353.6 H522 A32,34.4 0 0 0 554,388" fill="none" stroke="#6cc86c" stroke-width="1.15"/>
<path d="M566,442 V403 A39,39 0 0 1 605,442" fill="none" stroke="#6cc86c" stroke-width="1.15"/>
<line x1="733" y1="542" x2="800" y2="542" stroke="#6cc86c" stroke-width="1.5" />
<g font-family="Liberation Sans, sans-serif" font-weight="bold" font-size="11" fill="#111" text-anchor="middle">
<text x="457" y="13.45" textLength="23.5" lengthAdjust="spacing">4.15</text>
<text x="532" y="76.95" textLength="23.5" lengthAdjust="spacing">0.44</text>
<text x="565" y="77.95" textLength="23.5" lengthAdjust="spacing">0.20</text>
<text x="594" y="23.95" textLength="23.5" lengthAdjust="spacing">1.51</text>
<text x="664" y="36.95" textLength="23.5" lengthAdjust="spacing">1.99</text>
<text x="737" y="23.95" textLength="23.5" lengthAdjust="spacing">1.60</text>
<text x="769" y="37.95" textLength="23.5" lengthAdjust="spacing">0.43</text>
<text x="394" y="90.95" textLength="23.5" lengthAdjust="spacing">0.30</text>
<text x="467" y="158.95" textLength="23.5" lengthAdjust="spacing">3.18</text>
<text x="536" y="140.95" textLength="23.5" lengthAdjust="spacing">0.43</text>
<text x="575" y="155.55" textLength="23.5" lengthAdjust="spacing">0.36</text>
<text x="531" y="166.95" textLength="23.5" lengthAdjust="spacing">0.29</text>
<text x="546" y="207.95" textLength="23.5" lengthAdjust="spacing">0.40</text>
<text x="601" y="197.95" textLength="23.5" lengthAdjust="spacing">1.29</text>
<text x="600" y="211.95" textLength="23.5" lengthAdjust="spacing">2.06</text>
<text x="644.7" y="177.25" textLength="23.5" lengthAdjust="spacing">0.87</text>
<text x="706.6" y="156.95" textLength="23.5" lengthAdjust="spacing">1.44</text>
<text x="768.5" y="179.95" textLength="23.5" lengthAdjust="spacing">0.86</text>
<text x="687.5" y="210.35" textLength="23.5" lengthAdjust="spacing">2.24</text>
<text x="760.6" y="210.35" textLength="23.5" lengthAdjust="spacing">0.57</text>
<text x="690.9" y="262.95" textLength="23.5" lengthAdjust="spacing">2.92</text>
<text x="702" y="290.95" textLength="23.5" lengthAdjust="spacing">3.49</text>
<text x="753" y="319.95" textLength="23.5" lengthAdjust="spacing">4.75</text>
<text x="476" y="292.95" textLength="23.5" lengthAdjust="spacing">4.17</text>
<text x="477" y="312.95" textLength="23.5" lengthAdjust="spacing">3.16</text>
<text x="402" y="334.95" textLength="23.5" lengthAdjust="spacing">0.60</text>
<text x="640" y="320.45" textLength="23.5" lengthAdjust="spacing">0.58</text>
<text x="690" y="350.95" textLength="23.5" lengthAdjust="spacing">1.66</text>
<text x="673" y="369.95" textLength="23.5" lengthAdjust="spacing">2.28</text>
<text x="673" y="401.95" textLength="23.5" lengthAdjust="spacing">2.30</text>
<text x="682" y="418.95" textLength="23.5" lengthAdjust="spacing">1.85</text>
<text x="472" y="426.95" textLength="23.5" lengthAdjust="spacing">4.08</text>
<text x="593" y="429.95" textLength="23.5" lengthAdjust="spacing">1.68</text>
<text x="583" y="463.95" textLength="23.5" lengthAdjust="spacing">2.13</text>
<text x="667" y="469.55" textLength="23.5" lengthAdjust="spacing">1.09</text>
<text x="593" y="528.95" textLength="23.5" lengthAdjust="spacing">1.63</text>
<text x="679" y="530.95" textLength="23.5" lengthAdjust="spacing">1.70</text>
<text x="791" y="528.95" textLength="23.5" lengthAdjust="spacing">3.35</text>
<text transform="translate(382,27) rotate(-90)" x="0" y="3.95" textLength="23.5" lengthAdjust="spacing">0.99</text>
<text transform="translate(401,64) rotate(-90)" x="0" y="3.95" textLength="23.5" lengthAdjust="spacing">0.78</text>
<text transform="translate(409,132) rotate(-90)" x="0" y="3.95" textLength="23.5" lengthAdjust="spacing">0.15</text>
<text transform="translate(410,165) rotate(-90)" x="0" y="3.95" textLength="23.5" lengthAdjust="spacing">0.18</text>
<text transform="translate(395.8,226.2) rotate(-90)" x="0" y="3.95" textLength="23.5" lengthAdjust="spacing">3.36</text>
<text transform="translate(535,24) rotate(-90)" x="0" y="3.95" textLength="23.5" lengthAdjust="spacing">0.99</text>
<text transform="translate(524,52) rotate(-90)" x="0" y="3.95" textLength="23.5" lengthAdjust="spacing">0.49</text>
<text transform="translate(567,43) rotate(-90)" x="0" y="3.95" textLength="23.5" lengthAdjust="spacing">1.03</text>
<text transform="translate(620,28) rotate(-90)" x="0" y="3.95" textLength="23.5" lengthAdjust="spacing">0.17</text>
<text transform="translate(710,30) rotate(-90)" x="0" y="3.95" textLength="23.5" lengthAdjust="spacing">0.17</text>
<text transform="translate(557,102) rotate(-90)" x="0" y="3.95" textLength="23.5" lengthAdjust="spacing">1.94</text>
<text transform="translate(777,104) rotate(-90)" x="0" y="3.95" textLength="23.5" lengthAdjust="spacing">3.86</text>
<text transform="translate(797,125) rotate(-90)" x="0" y="3.95" textLength="23.5" lengthAdjust="spacing">3.06</text>
<text transform="translate(565,170) rotate(-90)" x="0" y="3.95" textLength="23.5" lengthAdjust="spacing">1.19</text>
<text transform="translate(538,182) rotate(-90)" x="0" y="3.95" textLength="23.5" lengthAdjust="spacing">0.99</text>
<text transform="translate(623,183) rotate(-90)" x="0" y="3.95" textLength="23.5" lengthAdjust="spacing">0.44</text>
<text transform="translate(673.5,177) rotate(-90)" x="0" y="3.95" textLength="23.5" lengthAdjust="spacing">0.82</text>
<text transform="translate(742.6,177) rotate(-90)" x="0" y="3.95" textLength="23.5" lengthAdjust="spacing">0.82</text>
<text transform="translate(637,224) rotate(-90)" x="0" y="3.95" textLength="23.5" lengthAdjust="spacing">1.24</text>
<text transform="translate(755,226.6) rotate(-90)" x="0" y="3.95" textLength="23.5" lengthAdjust="spacing">1.30</text>
<text transform="translate(767.4,245.8) rotate(-90)" x="0" y="3.95" textLength="23.5" lengthAdjust="spacing">2.24</text>
<text transform="translate(554,247) rotate(-90)" x="0" y="3.95" textLength="23.5" lengthAdjust="spacing">2.37</text>
<text transform="translate(622,281) rotate(-90)" x="0" y="3.95" textLength="23.5" lengthAdjust="spacing">1.56</text>
<text transform="translate(637,273) rotate(-90)" x="0" y="3.95" textLength="23.5" lengthAdjust="spacing">0.94</text>
<text transform="translate(423,310) rotate(-90)" x="0" y="3.95" textLength="23.5" lengthAdjust="spacing">0.61</text>
<text transform="translate(535,308) rotate(-90)" x="0" y="3.95" textLength="23.5" lengthAdjust="spacing">0.60</text>
<text transform="translate(569.8,316.5) rotate(-90)" x="0" y="3.95" textLength="23.5" lengthAdjust="spacing">5.72</text>
<text transform="translate(646,334) rotate(-90)" x="0" y="3.95" textLength="23.5" lengthAdjust="spacing">1.02</text>
<text transform="translate(663.3,332.5) rotate(-90)" x="0" y="3.95" textLength="23.5" lengthAdjust="spacing">1.17</text>
<text transform="translate(398,378) rotate(-90)" x="0" y="3.95" textLength="23.5" lengthAdjust="spacing">2.69</text>
<text transform="translate(546,378) rotate(-90)" x="0" y="3.95" textLength="23.5" lengthAdjust="spacing">2.70</text>
<text transform="translate(621,394) rotate(-90)" x="0" y="3.95" textLength="23.5" lengthAdjust="spacing">1.93</text>
<text transform="translate(716,382) rotate(-90)" x="0" y="3.95" textLength="23.5" lengthAdjust="spacing">1.09</text>
<text transform="translate(713,434) rotate(-90)" x="0" y="3.95" textLength="23.5" lengthAdjust="spacing">1.31</text>
<text transform="translate(732,444) rotate(-90)" x="0" y="3.95" textLength="23.5" lengthAdjust="spacing">4.41</text>
<text transform="translate(652.3,439) rotate(-90)" x="0" y="3.95" textLength="23.5" lengthAdjust="spacing">1.53</text>
<text transform="translate(547,465) rotate(-90)" x="0" y="3.95" textLength="23.5" lengthAdjust="spacing">0.70</text>
<text transform="translate(567.5,505.5) rotate(-90)" x="0" y="3.95" textLength="23.5" lengthAdjust="spacing">1.33</text>
<text transform="translate(653,504) rotate(-90)" x="0" y="3.95" textLength="23.5" lengthAdjust="spacing">1.45</text>
<text transform="translate(710,521) rotate(-90)" x="0" y="3.95" textLength="23.5" lengthAdjust="spacing">0.57</text>
<text transform="translate(619,491) rotate(90)" x="0" y="3.95" textLength="23.5" lengthAdjust="spacing">2.03</text>
</g>
<g font-family="Liberation Serif, serif" font-weight="bold" font-size="13" fill="#111" text-anchor="middle">
<circle cx="464" cy="90" r="7" fill="none" stroke="#111" stroke-width="1.25"/>
<text x="464" y="93.90" textLength="11" lengthAdjust="spacingAndGlyphs">14</text>
<circle cx="676" cy="100.5" r="7" fill="none" stroke="#111" stroke-width="1.25"/>
<text x="676" y="104.40">1</text>
<circle cx="470" cy="226" r="7" fill="none" stroke="#111" stroke-width="1.25"/>
<text x="470" y="229.90">2</text>
<circle cx="684" cy="226.6" r="7" fill="none" stroke="#111" stroke-width="1.25"/>
<text x="684" y="230.50" textLength="11" lengthAdjust="spacingAndGlyphs">12</text>
<circle cx="745.5" cy="270" r="7" fill="none" stroke="#111" stroke-width="1.25"/>
<text x="745.5" y="273.90">5</text>
<circle cx="593.6" cy="309" r="7" fill="none" stroke="#111" stroke-width="1.25"/>
<text x="593.6" y="312.90" textLength="11" lengthAdjust="spacingAndGlyphs">10</text>
<circle cx="472" cy="372" r="7" fill="none" stroke="#111" stroke-width="1.25"/>
<text x="472" y="375.90">3</text>
<circle cx="671" cy="383" r="7" fill="none" stroke="#111" stroke-width="1.25"/>
<text x="671" y="386.90" textLength="11" lengthAdjust="spacingAndGlyphs">11</text>
<circle cx="681" cy="434" r="7" fill="none" stroke="#111" stroke-width="1.25"/>
<text x="681" y="437.90">4</text>
<circle cx="591.6" cy="482" r="7" fill="none" stroke="#111" stroke-width="1.25"/>
<text x="591.6" y="485.90" textLength="11" lengthAdjust="spacingAndGlyphs">13</text>
<circle cx="678" cy="506" r="7" fill="none" stroke="#111" stroke-width="1.25"/>
<text x="678" y="509.90">7</text>
<circle cx="794" cy="398" r="7" fill="none" stroke="#111" stroke-width="1.25"/>
<text x="794" y="401.90">9</text>
</g>
<polyline points="247,323 247,255.5 347,255.5 347,297.3" fill="none" stroke="#7b2e3c" stroke-width="2.5"/>
<rect x="261.2" y="270.3" width="16.400000000000034" height="16.899999999999977" fill="none" stroke="#7b2e3c" stroke-width="2.4"/>
<rect x="289.6" y="270.3" width="16.69999999999999" height="16.899999999999977" fill="none" stroke="#7b2e3c" stroke-width="2.4"/>
<rect x="318.5" y="270.3" width="16.100000000000023" height="16.899999999999977" fill="none" stroke="#7b2e3c" stroke-width="2.4"/>
<rect x="276" y="296.5" width="8" height="23.5" fill="#fff" stroke="#e2702f" stroke-width="2"/>
<polyline points="237,344 330,294 361,316" fill="none" stroke="#e2702f" stroke-width="3"/>
<rect x="321.7" y="315.7" width="16.80000000000001" height="16.30000000000001" fill="none" stroke="#e2702f" stroke-width="2.4"/>
<path fill="none" stroke="#2a2a2a" stroke-width="2.6" stroke-linecap="butt" stroke-linejoin="round" d="M382.3,255.4 V293.75 M382.3,256.7 H391 A8.5,7.90 0 0 1 391,272.5 H382.3 M382.3,272.5 H395 A10.4,9.97 0 0 1 395,292.45 H382.3"/>
<path fill="none" stroke="#2a2a2a" stroke-width="2.6" stroke-linecap="butt" stroke-linejoin="round" d="M412.2,255.4 V292.45 H423.8"/>
<path fill="none" stroke="#2a2a2a" stroke-width="2.6" stroke-linecap="butt" stroke-linejoin="round" d="M432.6,255.4 V293.75"/>
<path fill="none" stroke="#2a2a2a" stroke-width="2.6" stroke-linecap="butt" stroke-linejoin="round" d="M459.90,260.81 A10.20,8.75 0 0 0 441.05,265.45 A10.20,8.75 0 0 0 451.25,274.20 A11.20,9.12 0 0 1 462.45,283.32 A11.20,9.12 0 0 1 441.36,287.61"/>
<path fill="none" stroke="#2a2a2a" stroke-width="2.6" stroke-linecap="butt" stroke-linejoin="round" d="M487.53,260.81 A9.32,8.75 0 0 0 470.30,265.45 A9.32,8.75 0 0 0 479.62,274.20 A10.32,9.12 0 0 1 489.95,283.32 A10.32,9.12 0 0 1 470.51,287.61"/>
<path fill="none" stroke="#2a2a2a" stroke-width="2.6" stroke-linecap="butt" stroke-linejoin="round" d="M382.6,305.6 V344.4"/>
<path fill="none" stroke="#2a2a2a" stroke-width="2.6" stroke-linecap="butt" stroke-linejoin="round" d="M391.2,321.9 V344.4 M391.2,329.9 C391.2,320.4 403.75,320.4 403.75,327.9 V344.4 M403.75,327.9 C403.75,320.4 417.5,320.4 417.5,327.9 V344.4"/>
<ellipse cx="432.8" cy="333.15" rx="10.9" ry="9.95" fill="none" stroke="#2a2a2a" stroke-width="2.6" stroke-linecap="butt" stroke-linejoin="round"/>
<path fill="none" stroke="#2a2a2a" stroke-width="2.6" stroke-linecap="butt" stroke-linejoin="round" d="M449.9,305.6 V344.4"/><ellipse cx="460.4" cy="333.15" rx="9.6" ry="9.95" fill="none" stroke="#2a2a2a" stroke-width="2.6" stroke-linecap="butt" stroke-linejoin="round"/>
<path fill="none" stroke="#2a2a2a" stroke-width="2.6" stroke-linecap="butt" stroke-linejoin="round" d="M476.9,321.9 V344.4"/><circle cx="476.9" cy="316.25" r="1.8" fill="#2a2a2a"/>
<path fill="none" stroke="#2a2a2a" stroke-width="2.6" stroke-linecap="butt" stroke-linejoin="round" d="M485,305.6 V344.4"/>
<path fill="none" stroke="#2a2a2a" stroke-width="2.6" stroke-linecap="butt" stroke-linejoin="round" d="M493.1,321.9 V344.4"/><circle cx="493.1" cy="316.25" r="1.8" fill="#2a2a2a"/>
<ellipse cx="509.2" cy="333.15" rx="9.8" ry="9.95" fill="none" stroke="#2a2a2a" stroke-width="2.6" stroke-linecap="butt" stroke-linejoin="round"/><path fill="none" stroke="#2a2a2a" stroke-width="2.6" stroke-linecap="butt" stroke-linejoin="round" d="M520,321.9 V344.4"/>
<path fill="none" stroke="#2a2a2a" stroke-width="2.6" stroke-linecap="butt" stroke-linejoin="round" d="M527.5,321.9 V344.4 M527.5,330.9 C527.5,323.4 532,322.9 537.5,322.9"/>
<path fill="none" stroke="#2a2a2a" stroke-width="2.6" stroke-linecap="butt" stroke-linejoin="round" d="M541.3,332.9 H561.9 C561.9,323.4 541.3,321.9 541.3,332.9 C541.3,345.9 557.5,345.4 560.5,339.4"/>
</svg>
</body></html>
